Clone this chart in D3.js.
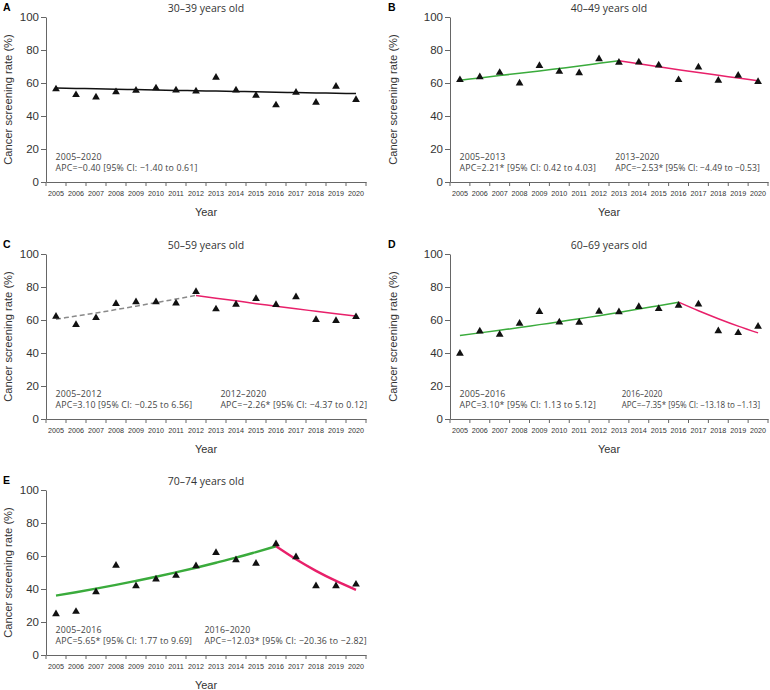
<!DOCTYPE html>
<html>
<head>
<meta charset="utf-8">
<script src="https://cdn.jsdelivr.net/npm/d3@7"></script>
<style>
	body { margin: 0; background: #fff; }
	svg { display: block; }
	.tick text { fill: #333; }
</style>
</head>
<body>
<div id="chart"></div>
<script>
"use strict";

//---- Data
const years = d3.range(2005, 2021);
const yTicks = [0, 20, 40, 60, 80, 100];

const rates3039 = [56.3, 52.8, 51.4, 54.6, 55.4, 56.9, 55.6, 55.0, 63.3, 55.6, 52.4, 46.6, 54.2, 48.2, 57.9, 49.8];
const rates4049 = [61.9, 63.7, 66.3, 59.9, 70.4, 66.9, 66.1, 74.6, 72.4, 72.6, 70.8, 61.9, 69.6, 61.5, 64.5, 60.7];
const rates5059 = [62.1, 57.1, 61.3, 69.8, 70.9, 70.9, 70.2, 77.1, 66.6, 69.4, 72.9, 69.2, 73.9, 60.1, 59.5, 61.9];
const rates6069 = [39.7, 53.2, 51.2, 57.9, 65.0, 58.7, 58.5, 65.2, 64.8, 68.0, 66.8, 68.8, 69.6, 53.4, 52.2, 56.1];
const rates7074 = [24.8, 26.3, 38.2, 54.3, 41.8, 45.9, 48.1, 53.9, 62.0, 57.6, 55.4, 67.3, 59.4, 41.8, 41.8, 42.8];

// fitted joinpoint trend, read per year
const trendA = [56.9, 56.7, 56.5, 56.2, 56.0, 55.8, 55.5, 55.3, 55.1, 54.9, 54.7, 54.4, 54.2, 54.0, 53.8, 53.6];
const trendB1 = [61.7, 63.1, 64.5, 65.9, 67.3, 68.8, 70.3, 71.9, 73.5];
const trendB2 = [73.5, 71.6, 69.8, 68.1, 66.3, 64.7, 63.0, 61.4];
const trendC1 = [60.5, 62.4, 64.3, 66.3, 68.4, 70.5, 72.7, 74.9];
const trendC2 = [74.9, 73.2, 71.6, 69.9, 68.4, 66.8, 65.3, 63.8, 62.4];
const trendD1 = [50.6, 52.2, 53.8, 55.4, 57.2, 58.9, 60.8, 62.6, 64.6, 66.6, 68.7, 70.8];
const trendD2 = [70.8, 65.6, 60.8, 56.3, 52.2];
const trendE1 = [36.0, 38.0, 40.2, 42.5, 44.9, 47.4, 50.1, 52.9, 55.9, 59.0, 62.4, 65.9];
const trendE2 = [65.9, 58.0, 51.0, 44.9, 39.5];

const panels = [
	{ letter: 'A', title: '30–39 years old', rates: rates3039,
		segments: [{ from: 2005, values: trendA, type: 'flat' }],
		notes: [{ range: '2005–2020', apc: 'APC=−0.40 [95% CI: −1.40 to 0.61]', at: 0.03 }] },
	{ letter: 'B', title: '40–49 years old', rates: rates4049,
		segments: [{ from: 2005, values: trendB1, type: 'up' }, { from: 2013, values: trendB2, type: 'down' }],
		notes: [{ range: '2005–2013', apc: 'APC=2.21* [95% CI: 0.42 to 4.03]', at: 0.03 },
			{ range: '2013–2020', apc: 'APC=−2.53* [95% CI: −4.49 to −0.53]', at: 0.52 }] },
	{ letter: 'C', title: '50–59 years old', rates: rates5059,
		segments: [{ from: 2005, values: trendC1, type: 'ns' }, { from: 2012, values: trendC2, type: 'down' }],
		notes: [{ range: '2005–2012', apc: 'APC=3.10 [95% CI: −0.25 to 6.56]', at: 0.03 },
			{ range: '2012–2020', apc: 'APC=−2.26* [95% CI: −4.37 to 0.12]', at: 0.545 }] },
	{ letter: 'D', title: '60–69 years old', rates: rates6069,
		segments: [{ from: 2005, values: trendD1, type: 'up' }, { from: 2016, values: trendD2, type: 'down' }],
		notes: [{ range: '2005–2016', apc: 'APC=3.10* [95% CI: 1.13 to 5.12]', at: 0.03 },
			{ range: '2016–2020', apc: 'APC=−7.35* [95% CI: −13.18 to −1.13]', at: 0.54 }] },
	{ letter: 'E', title: '70–74 years old', rates: rates7074,
		segments: [{ from: 2005, values: trendE1, type: 'up', thick: true }, { from: 2016, values: trendE2, type: 'down', thick: true }],
		notes: [{ range: '2005–2016', apc: 'APC=5.65* [95% CI: 1.77 to 9.69]', at: 0.03 },
			{ range: '2016–2020', apc: 'APC=−12.03* [95% CI: −20.36 to −2.82]', at: 0.495 }] }
];

//---- Layout
const width = 770, height = 690;
const cols = [{ left: 46, right: 366, offset: 0 }, { left: 450, right: 768, offset: 385 }];
const rows = [{ top: 17, bottom: 182 }, { top: 254, bottom: 419 }, { top: 490, bottom: 655 }];
const lineStyle = {
	flat: { stroke: '#111', dash: null },
	up: { stroke: '#3aab3c', dash: null },
	down: { stroke: '#e8206a', dash: null },
	ns: { stroke: '#8a8a8a', dash: '5,3' }
};
const noteSize = 8.8;

const svg = d3.select('#chart').append('svg')
	.attr('width', width)
	.attr('height', height)
	.style('font-family', '"Liberation Sans", Arial, sans-serif');

panels.forEach((panel, i) => {
	const col = cols[i % 2], row = rows[Math.floor(i / 2)];
	const g = svg.append('g');

	let x = d3.scaleBand().domain(years).range([col.left, col.right]);
	let y = d3.scaleLinear().domain([0, 100]).range([row.bottom, row.top]);
	const cx = yr => x(yr) + x.bandwidth() / 2;

	//---- Axes
	let yAxis = g.append('g')
		.attr('transform', `translate(${col.left},0)`)
		.call(d3.axisLeft(y).tickValues(yTicks).tickSizeInner(5).tickSizeOuter(0).tickPadding(2));
	yAxis.selectAll('text').style('font-size', '11.5px').attr('fill', '#333');
	yAxis.selectAll('line, path').attr('stroke', '#666');

	let xAxis = g.append('g')
		.attr('transform', `translate(0,${row.bottom})`)
		.call(d3.axisBottom(x).tickSize(0).tickPadding(9).tickSizeOuter(0));
	xAxis.selectAll('text')
		.style('font-size', '7.2px')
		.style('font-family', '"Liberation Sans Narrow", "Liberation Sans", sans-serif')
		.attr('fill', '#333');
	xAxis.select('.domain').attr('stroke', '#666');

	// ticks sit on the band edges
	g.append('g').selectAll('line')
		.data(years.map(yr => x(yr)).concat([x(years[years.length - 1]) + x.bandwidth()]))
		.join('line')
		.attr('x1', d => d).attr('x2', d => d)
		.attr('y1', row.bottom).attr('y2', row.bottom + 4)
		.attr('stroke', '#666');

	//---- Labels
	g.append('text')
		.attr('x', col.offset + 3).attr('y', row.top - 6)
		.style('font-size', '10.5px').style('font-weight', 'bold')
		.text(panel.letter);

	g.append('text')
		.attr('x', (col.left + col.right) / 2).attr('y', row.top - 5)
		.attr('text-anchor', 'middle')
		.style('font-size', '10.5px').style('font-family', '"Open Sans", "Noto Sans", sans-serif')
		.attr('fill', '#333')
		.text(panel.title);

	g.append('text')
		.attr('transform', `translate(${col.offset + 12},${(row.top + row.bottom) / 2}) rotate(-90)`)
		.attr('text-anchor', 'middle')
		.style('font-size', '11.2px')
		.attr('fill', '#333')
		.text('Cancer screening rate (%)');

	g.append('text')
		.attr('x', (col.left + col.right) / 2).attr('y', row.bottom + 34)
		.attr('text-anchor', 'middle')
		.style('font-size', '11px')
		.attr('fill', '#333')
		.text('Year');

	//---- Trend lines
	let line = d3.line().x(d => cx(d.year)).y(d => y(d.value)).curve(d3.curveMonotoneX);
	panel.segments.forEach(seg => {
		const style = lineStyle[seg.type];
		g.append('path')
			.datum(seg.values.map((v, k) => ({ year: seg.from + k, value: v })))
			.attr('d', line)
			.attr('fill', 'none')
			.attr('stroke', style.stroke)
			.attr('stroke-width', seg.thick ? 2.4 : 1.5)
			.attr('stroke-dasharray', style.dash);
	});

	//---- Points
	g.append('g').selectAll('path')
		.data(panel.rates.map((v, k) => ({ year: years[k], value: v })))
		.join('path')
		.attr('transform', d => `translate(${cx(d.year)},${y(d.value)})`)
		.attr('d', d3.symbol(d3.symbolTriangle, 26))
		.attr('fill', '#111');

	//---- Notes
	panel.notes.forEach(note => {
		const nx = col.left + note.at * (col.right - col.left);
		const room = width - 3 - nx;
		const t = g.append('text')
			.attr('x', nx)
			.style('font-size', noteSize + 'px')
			.style('font-family', '"Open Sans", "Noto Sans", sans-serif')
			.style('letter-spacing', '0.15px')
			.attr('fill', '#444');
		t.append('tspan').attr('x', nx).attr('y', row.bottom - 22).text(note.range);
		let apc = t.append('tspan').attr('x', nx).attr('y', row.bottom - 11).text(note.apc);
		// shrink the long ones so they stay inside the picture
		const len = apc.node().getComputedTextLength();
		if (len > room)
			t.style('font-size', (noteSize * room / len - 0.1) + 'px').style('letter-spacing', null);
	});
});
</script>
</body>
</html>
